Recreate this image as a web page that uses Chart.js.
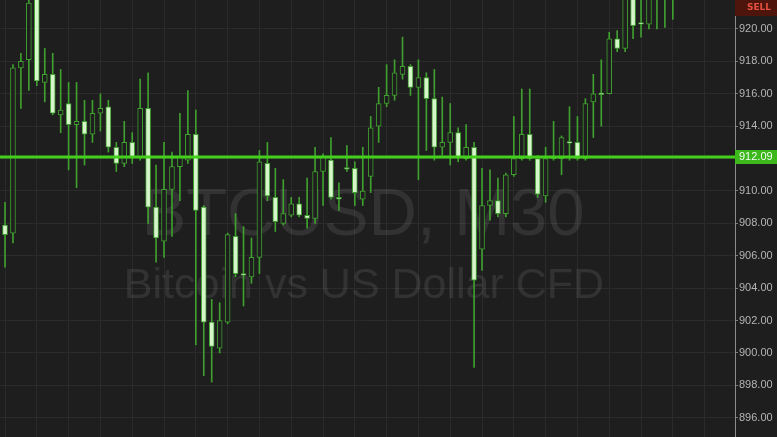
<!DOCTYPE html>
<html><head><meta charset="utf-8">
<script src="https://cdn.jsdelivr.net/npm/chart.js@4.4.1/dist/chart.umd.min.js"></script>
<style>html,body{margin:0;padding:0;background:#1e1e1e;overflow:hidden}#wrap{width:777px;height:437px;position:relative}</style>
</head><body><div id="wrap"><canvas id="c"></canvas></div>
<script>
// BTCUSD M30 candles
const opens  = [907.9,907.4,917.6,918.1,922.6,916.7,917.2,914.7,915.4,914.1,914.3,913.5,914.8,915.2,912.7,911.7,913.0,912.1,915.1,909.0,906.9,910.1,911.5,911.9,913.5,909.0,901.9,900.3,901.9,907.2,904.9,904.7,905.9,911.7,909.6,908.0,908.5,909.2,908.5,908.3,911.2,911.9,909.6,911.45,911.4,909.5,910.9,914.0,915.4,915.9,917.2,917.7,916.4,917.0,915.7,912.7,913.0,913.6,912.0,912.7,906.4,909.1,909.4,908.6,911.0,912.0,913.5,912.0,909.7,912.0,912.0,913.05,913.0,912.0,915.5,916.05,916.0,919.4,918.8,922.6,920.4,920.3,922.5,922.4,922.6];
const highs  = [909.3,917.8,918.5,922.5,923.0,918.8,918.5,917.5,916.7,916.7,915.6,915.6,916.0,915.6,913.0,914.3,913.6,916.9,917.3,911.6,913.0,912.4,914.8,916.2,915.0,909.1,903.3,903.1,907.4,908.6,907.8,907.1,912.5,913.0,911.4,910.7,909.6,909.6,910.8,912.7,912.3,913.3,910.5,912.8,911.8,912.7,914.6,916.4,917.8,918.1,919.5,917.8,918.1,917.3,917.5,915.8,915.4,913.9,914.1,913.0,911.4,911.3,910.8,911.1,914.6,916.3,916.3,912.2,912.7,914.3,913.4,915.2,914.6,915.7,917.2,918.1,919.8,919.9,922.5,923.0,922.5,922.5,923.0,923.0,923.0];
const lows   = [905.3,906.8,915.1,916.2,916.5,915.5,914.7,913.6,911.3,910.2,911.6,913.0,913.7,912.4,911.2,911.5,911.7,911.9,908.0,905.6,905.9,907.2,909.4,911.7,900.5,898.6,898.2,900.0,901.8,904.7,902.9,904.3,904.9,909.4,907.5,907.9,908.4,908.4,907.7,908.0,909.1,909.5,908.8,911.2,909.1,909.1,909.9,913.0,915.2,915.6,916.9,915.9,910.7,912.5,911.9,912.2,911.6,911.8,911.9,899.1,905.1,908.2,908.4,908.4,910.9,911.9,911.9,909.6,909.3,911.9,911.0,911.9,911.9,911.9,913.3,914.0,916.0,918.6,918.6,919.4,919.5,920.0,920.0,920.1,920.6];
const closes = [907.3,917.6,918.0,921.6,916.8,917.2,914.8,915.0,914.1,914.3,913.5,914.8,915.1,912.7,911.7,913.0,912.1,915.1,909.0,907.1,910.1,911.5,912.1,913.5,908.8,901.9,900.4,902.0,907.3,904.9,904.8,905.9,911.8,909.7,908.1,908.6,909.2,908.5,908.3,911.2,912.1,909.6,909.5,911.35,909.9,910.0,913.9,915.4,915.9,917.3,917.7,916.4,917.0,915.7,912.7,913.0,913.6,912.1,912.7,904.5,909.1,909.4,908.6,911.0,912.0,913.5,912.0,909.8,912.0,912.1,913.3,912.95,912.0,915.4,916.0,915.95,919.4,918.8,922.2,920.2,920.3,922.3,922.2,922.8,922.9];
const priceTicks = [896,898,900,902,904,906,908,910,912,914,916,918,920];
const currentPrice = 912.09;
const symbolText = 'BTCUSD, M30';
const descText = 'Bitcoin vs US Dollar CFD';
const sellText = 'SELL';

const BG = '#1e1e1e', GREEN = '#3f9f2f', BEAR = '#d6f5cb';
const bodies = opens.map((o,i)=>({x:i, y:[Math.min(o,closes[i]), Math.max(o,closes[i])]}));
const wicks = highs.map((h,i)=>({x:i, y:[lows[i], h]}));
const bodyFill = opens.map((o,i)=> closes[i] >= o ? BG : BEAR);

const overlay = {
  id:'overlay',
  beforeDraw(chart){
    const c = chart.ctx; c.save(); c.fillStyle = BG; c.fillRect(0,0,chart.width,chart.height); c.restore();
  },
  beforeDatasetsDraw(chart){
    const c = chart.ctx, a = chart.chartArea; c.save();
    c.beginPath(); c.rect(a.left,a.top,a.right-a.left,a.bottom-a.top); c.clip();
    c.fillStyle = 'rgba(255,255,255,0.09)'; c.textAlign='center'; c.textBaseline='alphabetic';
    c.font = '67px "Liberation Sans", Arial, sans-serif'; c.fillText(symbolText, 363, 235);
    c.font = '43px "Liberation Sans", Arial, sans-serif'; c.fillText(descText, 364, 298);
    c.restore();
  },
  afterDatasetsDraw(chart){
    const c = chart.ctx, a = chart.chartArea, y = chart.scales.y.getPixelForValue(currentPrice);
    c.save(); c.strokeStyle = '#44cf1c'; c.lineWidth = 3; c.beginPath(); c.moveTo(a.left,y); c.lineTo(a.right,y); c.stroke(); c.restore();
  },
  afterDraw(chart){
    const c = chart.ctx, a = chart.chartArea, y = chart.scales.y.getPixelForValue(currentPrice);
    c.save();
    c.fillStyle = '#3cb81d'; c.fillRect(a.right, Math.round(y)-7, chart.width-a.right, 14);
    c.fillStyle = '#f2fff0'; c.font = '11px "Liberation Sans", Arial, sans-serif'; c.textBaseline='middle'; c.textAlign='left';
    c.fillText(currentPrice.toFixed(2), a.right+4, Math.round(y));
    c.fillStyle = '#4e150c'; c.fillRect(a.right, 0, chart.width-a.right, 16);
    c.fillStyle = '#e5503e'; c.font = 'bold 9px "DejaVu Sans", sans-serif'; c.textAlign='center';
    c.fillText(sellText, (a.right+chart.width)/2+3, 8);
    c.restore();
  }
};

new Chart(document.getElementById('c'), {
  type:'bar',
  data:{ datasets:[
    { label:'body', data:bodies, order:0, grouped:false, barThickness:5, backgroundColor:bodyFill, borderColor:GREEN, borderWidth:1, borderSkipped:false },
    { label:'wick', data:wicks, order:1, grouped:false, barThickness:1, backgroundColor:GREEN, borderWidth:0 }
  ]},
  options:{
    responsive:true, maintainAspectRatio:false, animation:false,
    layout:{ padding:0 },
    plugins:{ legend:{display:false}, tooltip:{enabled:false} },
    scales:{
      x:{ type:'linear', min:-0.63, max:91.82, offset:false,
          afterBuildTicks:s=>{ const t=[]; for(let v=2; v<=s.max; v+=4) t.push({value:v}); s.ticks=t; },
          afterFit:s=>{ s.height=0; s.paddingLeft=0; s.paddingRight=0; },
          ticks:{display:false}, grid:{color:'#2b2b2b', drawTicks:false}, border:{display:false} },
      y:{ position:'right', min:894.81, max:921.79,
          afterBuildTicks:s=>{ s.ticks = priceTicks.map(v=>({value:v})); },
          afterFit:s=>{ s.width=42; s.paddingTop=0; s.paddingBottom=0; },
          ticks:{ color:'#b4b4b4', padding:1, font:{family:'"Liberation Sans", Arial, sans-serif', size:11},
                  callback:v=> v===912 ? '' : Number(v).toFixed(2) },
          grid:{ color:'#2b2b2b', tickColor:'#7a7a7a', tickLength:3 },
          border:{ display:true, color:'#8c8c8c', width:1 } }
    }
  },
  plugins:[overlay]
});
</script></body></html>
